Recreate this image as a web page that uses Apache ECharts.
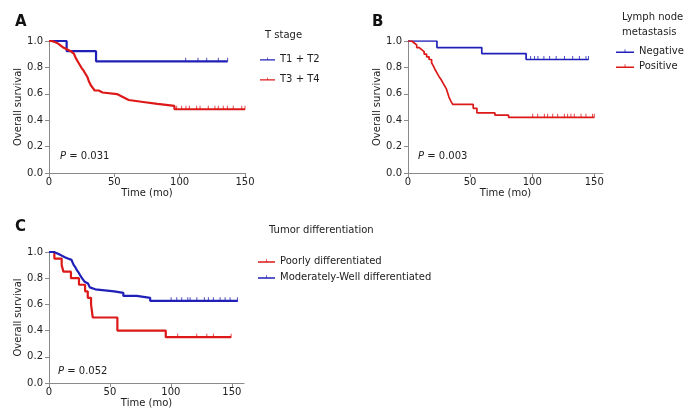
<!DOCTYPE html>
<html lang="en">
<head>
  <meta charset="UTF-8">
  <title>Overall survival</title>
  <script src="https://cdn.jsdelivr.net/npm/echarts@6/dist/echarts.min.js"></script>
  <style>
    html, body { margin: 0; padding: 0; background: #fff; }
    #main { width: 692px; height: 420px; }
  </style>
</head>
<body>
  <div id="main"></div>
  <script>
    // ---- data (time in months, survival fraction) ----
    // A: T stage
    const aLowTime = [0, 13.5, 36, 136.7];
    const aLowSurv = [1, 0.923, 0.846, 0.846];
    const aLowCens = [104.6, 114, 120.7, 129.6, 136.7];
    const aHighTime = [0, 2, 5, 7, 9, 11, 14, 17, 19, 20.5, 22, 23.5, 25, 26.5, 28, 29.5, 30.5, 32, 33.5, 35, 38, 41, 52, 55, 58, 61, 72, 83, 96, 150];
    const aHighSurv = [1, .99, .98, .965, .95, .935, .92, .905, .89, .87, .845, .82, .795, .775, .75, .725, .695, .665, .645, .625, .61, .598, .583, .568, .553, .538, .523, .508, .483, .483];
    const aHighCens = [97.7, 101.5, 104.8, 107.4, 113, 115.6, 121.9, 127, 129.6, 133.4, 136.5, 141, 147.5, 150];

    // B: lymph node metastasis
    const bNegTime = [0, 23.3, 59.4, 95.1, 145.3];
    const bNegSurv = [1, 0.95, 0.905, 0.86, 0.86];
    const bNegCens = [98.7, 101.9, 104.6, 109.4, 114, 119.3, 126, 132.6, 138, 143.3, 145.3];
    const bPosTime = [0, 3, 5, 7, 9, 11, 13, 15, 17, 19, 20.5, 22, 23.5, 25, 26.5, 28, 29.5, 31, 32, 33, 34.5, 36, 52.5, 55.5, 70, 81, 150];
    const bPosSurv = [1, .985, .97, .95, .935, .92, .9, .88, .86, .835, .81, .78, .755, .73, .71, .685, .66, .635, .605, .575, .545, .52, .49, .455, .438, .422, .422];
    const bPosCens = [100.4, 104.4, 109.8, 112.4, 116.5, 120.5, 125.9, 128.5, 131.2, 133.9, 139.3, 143.3, 148.6, 150];

    // C: tumor differentiation
    const cPoorTime = [0, 4.4, 10.4, 11.8, 18, 24.6, 29.6, 31.8, 34.5, 35.9, 56.1, 95.8, 149.4];
    const cPoorSurv = [1, .95, .90, .85, .80, .75, .70, .65, .60, .50, .40, .35, .35];
    const cPoorCens = [105.6, 121.2, 129.5, 134.9, 149.4];
    const cModTime = [0, 4, 6.5, 9, 11, 13, 15.5, 18.5, 20, 21.5, 23, 24.5, 26, 27.5, 29, 30.5, 32, 33.5, 35, 38, 53.5, 61, 72, 83, 154.9];
    const cModSurv = [1, .99, .98, .97, .96, .95, .94, .925, .905, .885, .86, .84, .815, .795, .775, .76, .745, .73, .715, .70, .688, .665, .65, .627, .627];
    const cModCens = [100.2, 104.8, 108.9, 113.9, 115.8, 121.3, 127.5, 130.8, 134.9, 140.4, 144.5, 148.6, 154.6];

    const xTicks = [0, 50, 100, 150];

    const BLUE = '#2020b8';
    const RED = '#dc1818';
    const FONT = 'DejaVu Sans';
    const AXIS = '#8a8a8a';

    const chart = echarts.init(document.getElementById('main'));

    // survival at a censor time = level of the step in force then
    function levelAt(times, surv, t) {
      let v = surv[0];
      for (let i = 0; i < times.length; i++) {
        if (times[i] <= t) v = surv[i];
      }
      return v;
    }

    function kmSeries(name, idx, times, surv, cens, color, width) {
      return [{
        name: name,
        type: 'line',
        step: 'end',
        xAxisIndex: idx,
        yAxisIndex: idx,
        showSymbol: false,
        symbol: 'none',
        lineStyle: { color: color, width: width },
        itemStyle: { color: color },
        data: times.map((t, i) => [t, surv[i]]),
        animation: false,
        z: 3
      }, {
        name: name + ' censored',
        type: 'scatter',
        xAxisIndex: idx,
        yAxisIndex: idx,
        symbol: 'rect',
        symbolSize: [1, 4],
        symbolOffset: [0, -1.5],
        itemStyle: { color: color },
        data: cens.map(t => [t, levelAt(times, surv, t)]),
        animation: false,
        z: 4
      }];
    }

    function xAx(idx, max) {
      return {
        gridIndex: idx, type: 'value', min: 0, max: max, interval: 50,
        name: 'Time (mo)', nameLocation: 'middle', nameGap: 15,
        nameTextStyle: { fontFamily: FONT, fontSize: 10, color: '#222' },
        axisLine: { lineStyle: { color: AXIS } },
        axisTick: { length: 4, lineStyle: { color: AXIS }, customValues: xTicks },
        axisLabel: { fontFamily: FONT, fontSize: 10, color: '#222', margin: 4, customValues: xTicks },
        splitLine: { show: false }
      };
    }

    function yAx(idx) {
      return {
        gridIndex: idx, type: 'value', min: 0, max: 1, interval: 0.2,
        name: 'Overall survival', nameLocation: 'middle', nameGap: 25,
        nameTextStyle: { fontFamily: FONT, fontSize: 10, color: '#222' },
        axisLine: { show: true, lineStyle: { color: AXIS } },
        axisTick: { show: true, length: 4, lineStyle: { color: AXIS } },
        axisLabel: { fontFamily: FONT, fontSize: 10, color: '#222', margin: 6, formatter: v => v.toFixed(1) },
        splitLine: { show: false }
      };
    }

    const legendIcon = 'path://M0,3h24v2H0z M11.5,0h1v5h-1z';

    function legend(names, left, top, gap, w) {
      return {
        orient: 'vertical', left: left, top: top, itemGap: gap,
        itemWidth: w, itemHeight: 6, icon: legendIcon,
        selectedMode: false,
        textStyle: { fontFamily: FONT, fontSize: 10, color: '#222', lineHeight: 12 },
        data: names
      };
    }

    function txt(x, y, text, extra) {
      return {
        type: 'text', left: x, top: y,
        style: Object.assign({
          text: text, fontFamily: FONT, fontSize: 10, fill: '#222'
        }, extra || {})
      };
    }

    function pval(x, y, v) {
      return {
        type: 'text', left: x, top: y,
        style: {
          text: '{i|P} = ' + v, fontFamily: FONT, fontSize: 10, fill: '#222',
          rich: { i: { fontFamily: FONT, fontSize: 10, fontStyle: 'italic', fill: '#222' } }
        }
      };
    }

    const bold = { fontSize: 15, fontWeight: 'bold', fill: '#111' };

    chart.setOption({
      animation: false,
      grid: [
        { left: 49, top: 41, width: 196, height: 132 },
        { left: 408, top: 41, width: 195, height: 132 },
        { left: 49, top: 252, width: 195, height: 131 }
      ],
      xAxis: [xAx(0, 150), xAx(1, 157), xAx(2, 160)],
      yAxis: [yAx(0), yAx(1), yAx(2)],
      legend: [
        legend(['T1 + T2', 'T3 + T4'], 255, 48, 8, 15),
        legend(['Negative', 'Positive'], 611, 40, 3, 18),
        legend(['Poorly differentiated', 'Moderately-Well differentiated'], 253, 250, 4, 17)
      ],
      graphic: [
        txt(15, 15, 'A', bold),
        txt(372, 15, 'B', bold),
        txt(15, 220, 'C', bold),
        txt(265, 30, 'T stage'),
        txt(622, 12, 'Lymph node'),
        txt(622, 27, 'metastasis'),
        txt(269, 225, 'Tumor differentiation'),
        pval(60, 151, '0.031'),
        pval(418, 151, '0.003'),
        pval(58, 366, '0.052')
      ],
      series: [].concat(
        kmSeries('T1 + T2', 0, aLowTime, aLowSurv, aLowCens, BLUE, 2.2),
        kmSeries('T3 + T4', 0, aHighTime, aHighSurv, aHighCens, RED, 2.2),
        kmSeries('Negative', 1, bNegTime, bNegSurv, bNegCens, BLUE, 1.7),
        kmSeries('Positive', 1, bPosTime, bPosSurv, bPosCens, RED, 1.7),
        kmSeries('Poorly differentiated', 2, cPoorTime, cPoorSurv, cPoorCens, RED, 2.2),
        kmSeries('Moderately-Well differentiated', 2, cModTime, cModSurv, cModCens, BLUE, 2.2)
      )
    });
  </script>
</body>
</html>
